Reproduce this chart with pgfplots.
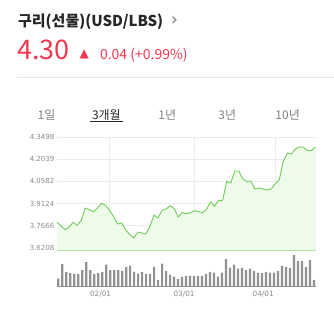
\documentclass[border=0pt]{standalone}
\usepackage{fontspec}
\setmainfont{Noto Sans CJK KR}
\newfontfamily\dvs{DejaVu Sans}
\usepackage{pgfplots}
\usepackage{pgfplotstable}
\pgfplotsset{compat=1.18}
\definecolor{lineg}{RGB}{112,204,92}
\definecolor{fillg}{RGB}{237,251,232}
\definecolor{gridc}{RGB}{236,236,236}
\definecolor{upred}{RGB}{240,56,78}
\definecolor{tickc}{RGB}{140,140,140}
\definecolor{volc}{RGB}{145,145,145}
\definecolor{tabc}{RGB}{130,130,130}

\pgfplotstableread{
i v
0 3.788
1 3.766
2 3.740
3 3.757
4 3.788
5 3.768
6 3.801
7 3.883
8 3.872
9 3.858
10 3.883
11 3.913
12 3.902
13 3.867
14 3.828
15 3.777
16 3.784
17 3.740
18 3.707
19 3.685
20 3.724
21 3.718
22 3.711
23 3.762
24 3.836
25 3.817
26 3.867
27 3.876
28 3.898
29 3.880
30 3.823
31 3.854
32 3.845
33 3.850
34 3.865
35 3.860
36 3.852
37 3.872
38 3.924
39 3.894
40 3.933
41 3.933
42 4.058
43 4.047
44 4.127
45 4.127
46 4.074
47 4.056
48 4.061
49 4.008
50 4.014
51 4.008
52 4.001
53 4.008
54 4.043
55 4.069
56 4.190
57 4.245
58 4.239
59 4.272
60 4.285
61 4.283
62 4.261
63 4.263
64 4.285
}\price

\pgfplotstableread{
i v
0 23
1 66
2 43
3 39
4 37
5 36
6 48
7 72
8 48
9 37
10 39
11 43
12 65
13 48
14 48
15 48
16 46
17 57
18 62
19 43
20 38
21 42
22 37
23 37
24 58
25 19
26 68
27 45
28 35
29 29
30 21
31 29
32 30
33 32
34 31
35 31
36 31
37 37
38 43
39 41
40 29
41 41
42 81
43 56
44 65
45 53
46 55
47 48
48 53
49 46
50 41
51 39
52 43
53 41
54 41
55 45
56 61
57 57
58 55
59 93
60 76
61 75
62 57
63 79
64 19
}\volume

\begin{document}
\begin{tikzpicture}
\fill[white] (0pt,0pt) rectangle (334pt,-311pt);

% header
\node[anchor=west, inner sep=0pt, font=\fontsize{15}{18}\selectfont\bfseries, text=black!85] at (18pt,-21.5pt) {구리(선물)(USD/LBS)};
\node[anchor=west, inner sep=0pt, font=\dvs\fontsize{18}{20}\selectfont, text=black!50] at (171pt,-21pt) {›};
\node[anchor=base west, inner sep=0pt, font=\fontsize{27}{30}\selectfont, text=upred] at (17pt,-60pt) {4.30};
\node[anchor=base west, inner sep=0pt, font=\dvs\fontsize{12}{14}\selectfont, text=upred] at (79.5pt,-57.5pt) {▲};
\node[anchor=base west, inner sep=0pt, font=\fontsize{14}{16}\selectfont, text=upred] at (100pt,-59.5pt) {0.04 (+0.99\%)};
\draw[black!10, line width=0.8pt] (17pt,-77.5pt) -- (334pt,-77.5pt);

% tabs
\node[anchor=base, inner sep=0pt, font=\fontsize{12}{14}\selectfont, text=tabc] at (46.5pt,-120pt) {1일};
\node[anchor=base, inner sep=0pt, font=\fontsize{12}{14}\selectfont, text=black!85] at (106.5pt,-120pt) {3개월};
\draw[black!85, line width=0.8pt] (90pt,-121.8pt) -- (123pt,-121.8pt);
\node[anchor=base, inner sep=0pt, font=\fontsize{12}{14}\selectfont, text=tabc] at (167.5pt,-120pt) {1년};
\node[anchor=base, inner sep=0pt, font=\fontsize{12}{14}\selectfont, text=tabc] at (227.5pt,-120pt) {3년};
\node[anchor=base, inner sep=0pt, font=\fontsize{12}{14}\selectfont, text=tabc] at (288pt,-120pt) {10년};

% price axis
\begin{axis}[
  at={(57pt,-251pt)}, anchor=south west,
  scale only axis, width=259pt, height=114pt,
  xmin=0, xmax=64, ymin=3.601, ymax=4.352,
  axis line style={draw=none},
  major tick length=0pt,
  xtick={12.92,33.93,53.94}, xticklabels={},
  ytick={3.6208,3.7666,3.9124,4.0582,4.2039,4.3498},
  yticklabels={3.6208,3.7666,3.9124,4.0582,4.2039,4.3498},
  yticklabel style={font=\dvs\fontsize{7}{8}\selectfont, text=tickc, inner sep=0pt, xshift=-2.5pt},
  xmajorgrids, ymajorgrids,
  grid style={gridc, line width=0.6pt},
]
\addplot[draw=none, fill=fillg] table[x=i,y=v] {\price} \closedcycle;
\addplot[lineg, line width=0.9pt, line join=round] table[x=i,y=v] {\price};
\end{axis}
\draw[lineg!55, line width=0.9pt] (57pt,-251pt) -- (316pt,-251pt);

% volume axis
\begin{axis}[
  at={(57pt,-286.5pt)}, anchor=south west,
  scale only axis, width=259pt, height=33.5pt,
  xmin=-0.325, xmax=64.425, ymin=0, ymax=100.5,
  ybar, bar width=2.2pt,
  axis y line=none, axis x line*=bottom,
  x axis line style={-, volc, line width=0.6pt},
  major tick length=0pt,
  ytick=\empty,
  xtick={10.6,31.5,51.3}, xticklabels={02/01,03/01,04/01},
  xticklabel style={font=\dvs\fontsize{7.3}{8}\selectfont, text=tickc, inner sep=0pt, yshift=-5pt},
]
\addplot[fill=volc, draw=none] table[x=i,y=v] {\volume};
\end{axis}
\end{tikzpicture}
\end{document}
